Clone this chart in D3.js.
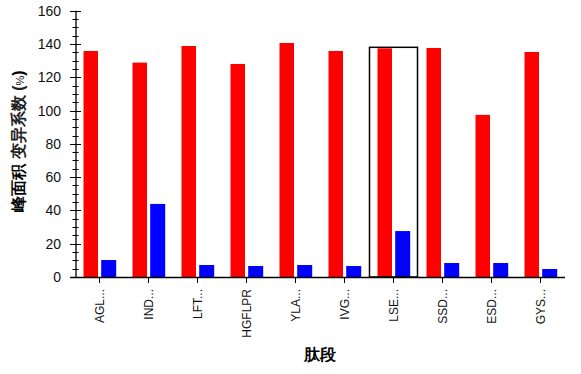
<!DOCTYPE html>
<html>
<head>
<meta charset="UTF-8">
<script src="https://cdn.jsdelivr.net/npm/d3@7"></script>
<style>
  body { margin: 0; background: #fff; }
  text { font-family: Arial, "Liberation Sans", sans-serif; }
</style>
</head>
<body>
<svg width="581" height="374"></svg>
<script>
  // data
  var peptides = ["AGL...", "IND...", "LFT...", "HGFLPR", "YLA...", "IVG...", "LSE...", "SSD...", "ESD...", "GYS..."];
  var redValues = [135.8, 128.8, 138.8, 128, 140.6, 135.8, 137.4, 137.6, 97.4, 135.2];
  var blueValues = [10.2, 43.9, 7.2, 6.6, 7.2, 6.6, 27.6, 8.4, 8.4, 4.8];
  var selected = "LSE...";

  var svg = d3.select("svg");
  var plotLeft = 75, plotRight = 565, plotTop = 10.7, plotBottom = 277;

  var x = d3.scaleBand().domain(peptides).range([plotLeft, plotRight]);
  var y = d3.scaleLinear().domain([0, 160]).range([plotBottom, plotTop]);

  var g = svg.append("g");

  // bars
  g.selectAll(".red").data(peptides).enter().append("rect")
    .attr("x", function(d){ return x(d) + x.bandwidth()/2 - 16; })
    .attr("y", function(d, i){ return y(redValues[i]); })
    .attr("width", 14.5)
    .attr("height", function(d, i){ return plotBottom - y(redValues[i]); })
    .attr("fill", "#ff0000");
  g.selectAll(".blue").data(peptides).enter().append("rect")
    .attr("x", function(d){ return x(d) + x.bandwidth()/2 + 1.7; })
    .attr("y", function(d, i){ return y(blueValues[i]); })
    .attr("width", 15)
    .attr("height", function(d, i){ return plotBottom - y(blueValues[i]); })
    .attr("fill", "#0000ff");

  // highlight box
  var si = peptides.indexOf(selected);
  g.append("rect")
    .attr("x", x(selected) + 0.5)
    .attr("y", y(redValues[si]) - 1)
    .attr("width", x.bandwidth() - 1)
    .attr("height", plotBottom - y(redValues[si]) + 1)
    .attr("fill", "none")
    .attr("stroke", "#000")
    .attr("stroke-width", 1.5);

  // y axis
  var yAxis = svg.append("g").attr("transform", "translate(" + 76 + ",0)");
  yAxis.append("line").attr("x1", 0).attr("x2", 0).attr("y1", y(160)).attr("y2", plotBottom)
    .attr("stroke", "#000").attr("stroke-width", 1.3);
  yAxis.selectAll(".minor").data(d3.range(0, 161, 5)).enter().append("line")
    .attr("x1", function(d){ return d % 20 === 0 ? -6 : -3.5; })
    .attr("x2", function(d){ return d % 20 === 0 ? 5 : 2.5; })
    .attr("y1", function(d){ return Math.round(y(d)) + 0.5; })
    .attr("y2", function(d){ return Math.round(y(d)) + 0.5; })
    .attr("stroke", "#000").attr("stroke-width", 1);
  yAxis.selectAll(".lab").data(y.ticks(8)).enter().append("text")
    .attr("x", -15).attr("y", function(d){ return y(d); })
    .attr("dy", "0.36em")
    .attr("text-anchor", "end")
    .attr("font-size", 14)
    .attr("fill", "#111")
    .text(function(d){ return d; });

  // x axis
  var xAxis = svg.append("g");
  xAxis.append("line").attr("x1", 70).attr("x2", plotRight).attr("y1", plotBottom + 0.5).attr("y2", plotBottom + 0.5)
    .attr("stroke", "#000").attr("stroke-width", 1.3);
  xAxis.selectAll(".tick").data(peptides).enter().append("line")
    .attr("x1", function(d){ return Math.round(x(d) + x.bandwidth()/2) - 0.5; })
    .attr("x2", function(d){ return Math.round(x(d) + x.bandwidth()/2) - 0.5; })
    .attr("y1", plotBottom).attr("y2", plotBottom + 6)
    .attr("stroke", "#000").attr("stroke-width", 1);
  xAxis.selectAll(".lab").data(peptides).enter().append("text")
    .attr("transform", function(d){ return "translate(" + (x(d) + x.bandwidth()/2 + 4) + "," + 289 + ") rotate(-90)"; })
    .attr("text-anchor", "end")
    .attr("font-size", 12)
    .attr("fill", "#111")
    .text(function(d){ return d; });

  // titles
  var yt = svg.append("text")
    .attr("transform", "translate(24,141) rotate(-90)")
    .attr("text-anchor", "middle")
    .attr("font-size", 16)
    .attr("font-family", "'Noto Sans CJK SC', sans-serif");
  yt.append("tspan").attr("font-weight", "bold").text("峰面积 ");
  yt.append("tspan").attr("font-weight", "bold").attr("fill", "#222").text("变异系数 (");
  yt.append("tspan").attr("font-size", 11).text("%");
  yt.append("tspan").attr("font-weight", "bold").text(")");

  svg.append("text")
    .attr("x", 320).attr("y", 360)
    .attr("text-anchor", "middle")
    .attr("font-size", 16)
    .attr("font-weight", "bold")
    .attr("font-family", "'Noto Sans CJK SC', sans-serif")
    .text("肽段");
</script>
</body>
</html>
